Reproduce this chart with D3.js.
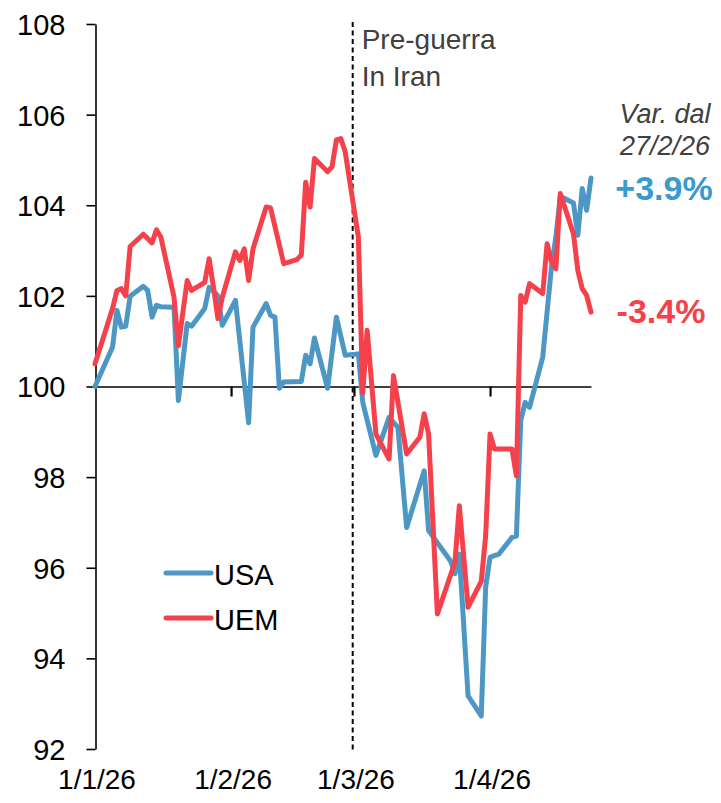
<!DOCTYPE html>
<html>
<head>
<meta charset="utf-8">
<script src="https://cdn.jsdelivr.net/npm/d3@7"></script>
<style>
  html, body { margin: 0; padding: 0; background: #fff; }
  svg { display: block; font-family: "Liberation Sans", Arial, sans-serif; }
</style>
</head>
<body>
<svg id="chart" width="721" height="803"></svg>
<script>
// ---------- DATA ----------
const usaDates = ["2026-01-01","2026-01-05","2026-01-06","2026-01-07","2026-01-08","2026-01-09","2026-01-12","2026-01-13","2026-01-14","2026-01-15","2026-01-16","2026-01-19","2026-01-20","2026-01-22","2026-01-23","2026-01-26","2026-01-27","2026-01-28","2026-01-29","2026-01-30","2026-02-02","2026-02-05","2026-02-06","2026-02-09","2026-02-10","2026-02-11","2026-02-12","2026-02-13","2026-02-17","2026-02-18","2026-02-19","2026-02-20","2026-02-23","2026-02-25","2026-02-27","2026-03-02","2026-03-03","2026-03-06","2026-03-09","2026-03-11","2026-03-13","2026-03-17","2026-03-18","2026-03-23","2026-03-24","2026-03-25","2026-03-27","2026-03-30","2026-03-31","2026-04-01","2026-04-02","2026-04-03","2026-04-06","2026-04-07","2026-04-08","2026-04-09","2026-04-10","2026-04-13","2026-04-15","2026-04-16","2026-04-17","2026-04-20","2026-04-21","2026-04-22","2026-04-23","2026-04-24"];
const usaValues = [100.0,100.87,101.68,101.31,101.33,101.99,102.21,102.12,101.53,101.79,101.76,101.75,99.69,101.39,101.33,101.72,102.19,102.1,102.0,101.35,101.9,99.2,101.31,101.83,101.57,101.53,99.96,100.1,100.11,100.69,100.5,101.07,99.96,101.53,100.69,100.72,99.65,98.48,99.32,99.1,96.89,98.14,96.82,96.15,95.87,96.3,93.17,92.73,95.57,96.23,96.27,96.3,96.67,96.7,99.25,99.65,99.54,100.65,102.64,103.3,104.2,104.05,103.34,104.37,103.89,104.6];

const uemDates = ["2026-01-01","2026-01-05","2026-01-06","2026-01-07","2026-01-08","2026-01-09","2026-01-12","2026-01-14","2026-01-15","2026-01-16","2026-01-19","2026-01-20","2026-01-22","2026-01-23","2026-01-26","2026-01-27","2026-01-28","2026-01-29","2026-01-30","2026-02-02","2026-02-03","2026-02-04","2026-02-05","2026-02-06","2026-02-09","2026-02-10","2026-02-13","2026-02-16","2026-02-17","2026-02-18","2026-02-19","2026-02-20","2026-02-23","2026-02-24","2026-02-25","2026-02-26","2026-02-27","2026-03-02","2026-03-03","2026-03-04","2026-03-06","2026-03-09","2026-03-10","2026-03-13","2026-03-16","2026-03-17","2026-03-18","2026-03-20","2026-03-24","2026-03-25","2026-03-27","2026-03-30","2026-03-31","2026-04-01","2026-04-02","2026-04-06","2026-04-07","2026-04-08","2026-04-09","2026-04-10","2026-04-13","2026-04-14","2026-04-15","2026-04-16","2026-04-17","2026-04-20","2026-04-21","2026-04-22","2026-04-23","2026-04-24"];
const uemValues = [100.5,101.72,102.12,102.16,102.0,103.09,103.36,103.17,103.46,103.3,101.97,100.9,102.34,102.12,102.3,102.82,102.19,101.5,101.97,102.97,102.78,103.04,102.34,103.04,103.96,103.94,102.71,102.8,102.9,104.51,103.96,105.03,104.74,104.85,105.44,105.47,105.18,103.3,99.85,101.24,98.95,98.4,100.24,98.51,98.88,99.4,98.95,94.98,96.12,97.37,95.13,95.7,96.7,98.95,98.62,98.62,98.03,102.01,101.86,102.27,102.05,103.15,102.75,102.6,104.26,103.37,102.56,102.16,102.01,101.64];

const seriesNames = ["USA", "UEM"];
const yTickValues = [92, 94, 96, 98, 100, 102, 104, 106, 108];
const xTickDates = ["2026-01-01", "2026-02-01", "2026-03-01", "2026-04-01"];
const xTickLabels = ["1/1/26", "1/2/26", "1/3/26", "1/4/26"];
const eventDate = "2026-02-28T17:00";
const eventLabel = ["Pre-guerra", "In Iran"];
const noteLabel = ["Var. dal", "27/2/26"];
const changeLabels = ["+3.9%", "-3.4%"];

// ---------- STYLE ----------
const BLUE = "#4d97c4";
const BLUE_TXT = "#3a9acd";
const RED = "#f4414b";
const GRAY = "#404040";

const parse = d3.utcParse("%Y-%m-%d");
const parseTime = d3.utcParse("%Y-%m-%dT%H:%M");
const svg = d3.select("#chart");

const x = d3.scaleUtc()
  .domain([parse("2026-01-01"), parse("2026-04-24")])
  .range([95, 591]);
const y = d3.scaleLinear().domain([92, 108]).range([749, 24]);

// Y axis
const yAxis = svg.append("g")
  .attr("transform", "translate(95.5,0)")
  .call(d3.axisLeft(y).tickValues(yTickValues).tickSize(9).tickSizeOuter(0).tickPadding(21).tickFormat(d3.format("d")));
yAxis.select(".domain").attr("stroke", "#000").attr("stroke-width", 1.6);
yAxis.selectAll(".tick line").attr("stroke", "#000").attr("stroke-width", 1.6);
yAxis.selectAll(".tick text").attr("font-size", 29).attr("fill", "#000")
  .attr("font-family", "'Liberation Sans', Arial, sans-serif").attr("dy", "0.36em");

// X axis at y=100
const xAxis = svg.append("g")
  .attr("transform", `translate(0,${y(100)})`)
  .call(d3.axisBottom(x).tickValues(xTickDates.map(parse)).tickSize(10).tickSizeOuter(0).tickFormat(""));
xAxis.select(".domain").attr("stroke", "#000").attr("stroke-width", 1.6);
xAxis.selectAll(".tick line").attr("stroke", "#000").attr("stroke-width", 2.2);
xAxis.selectAll(".tick").filter((d, i) => i === 0).select("line").remove();

// X tick labels at bottom
svg.append("g").selectAll("text")
  .data(xTickDates)
  .join("text")
  .attr("x", d => x(parse(d)) + 2)
  .attr("y", 789)
  .attr("text-anchor", "middle")
  .attr("font-size", 28)
  .attr("fill", "#000")
  .text((d, i) => xTickLabels[i]);

// Event dashed line
const ex = x(parseTime(eventDate));
svg.append("line")
  .attr("x1", ex).attr("x2", ex)
  .attr("y1", 22).attr("y2", 750)
  .attr("stroke", "#000").attr("stroke-width", 2)
  .attr("stroke-dasharray", "5,3.5");

svg.append("g").selectAll("text")
  .data(eventLabel)
  .join("text")
  .attr("x", ex + 9)
  .attr("y", (d, i) => 49 + i * 37)
  .attr("font-size", 28)
  .attr("fill", GRAY)
  .text(d => d);

// Lines
const line = d3.line()
  .x(d => x(d.date))
  .y(d => y(d.value));

const usa = usaDates.map((d, i) => ({ date: parse(d), value: usaValues[i] }));
const uem = uemDates.map((d, i) => ({ date: parse(d), value: uemValues[i] }));

svg.append("path")
  .datum(usa)
  .attr("d", line)
  .attr("fill", "none")
  .attr("stroke", BLUE)
  .attr("stroke-width", 5)
  .attr("stroke-linejoin", "round")
  .attr("stroke-linecap", "round");

svg.append("path")
  .datum(uem)
  .attr("d", line)
  .attr("fill", "none")
  .attr("stroke", RED)
  .attr("stroke-width", 5)
  .attr("stroke-linejoin", "round")
  .attr("stroke-linecap", "round");

// Legend
const legendColors = [BLUE, RED];
const lg = svg.append("g");
seriesNames.forEach((name, i) => {
  const yy = 573 + i * 45;
  lg.append("line")
    .attr("x1", 166).attr("x2", 211)
    .attr("y1", yy).attr("y2", yy)
    .attr("stroke", legendColors[i]).attr("stroke-width", 5)
    .attr("stroke-linecap", "round");
  lg.append("text")
    .attr("x", 214).attr("y", yy + 12)
    .attr("font-size", 29)
    .attr("fill", "#000")
    .text(name);
});

// Right-side notes
svg.append("g").selectAll("text")
  .data(noteLabel)
  .join("text")
  .attr("x", 665)
  .attr("y", (d, i) => 123 + i * 32)
  .attr("text-anchor", "middle")
  .attr("font-size", 27)
  .attr("font-style", "italic")
  .attr("fill", GRAY)
  .text(d => d);

svg.append("text")
  .attr("x", 664).attr("y", 200)
  .attr("text-anchor", "middle")
  .attr("font-size", 34).attr("font-weight", "bold")
  .attr("fill", BLUE_TXT)
  .text(changeLabels[0]);

svg.append("text")
  .attr("x", 661).attr("y", 323)
  .attr("text-anchor", "middle")
  .attr("font-size", 34).attr("font-weight", "bold")
  .attr("fill", RED)
  .text(changeLabels[1]);
</script>
</body>
</html>
